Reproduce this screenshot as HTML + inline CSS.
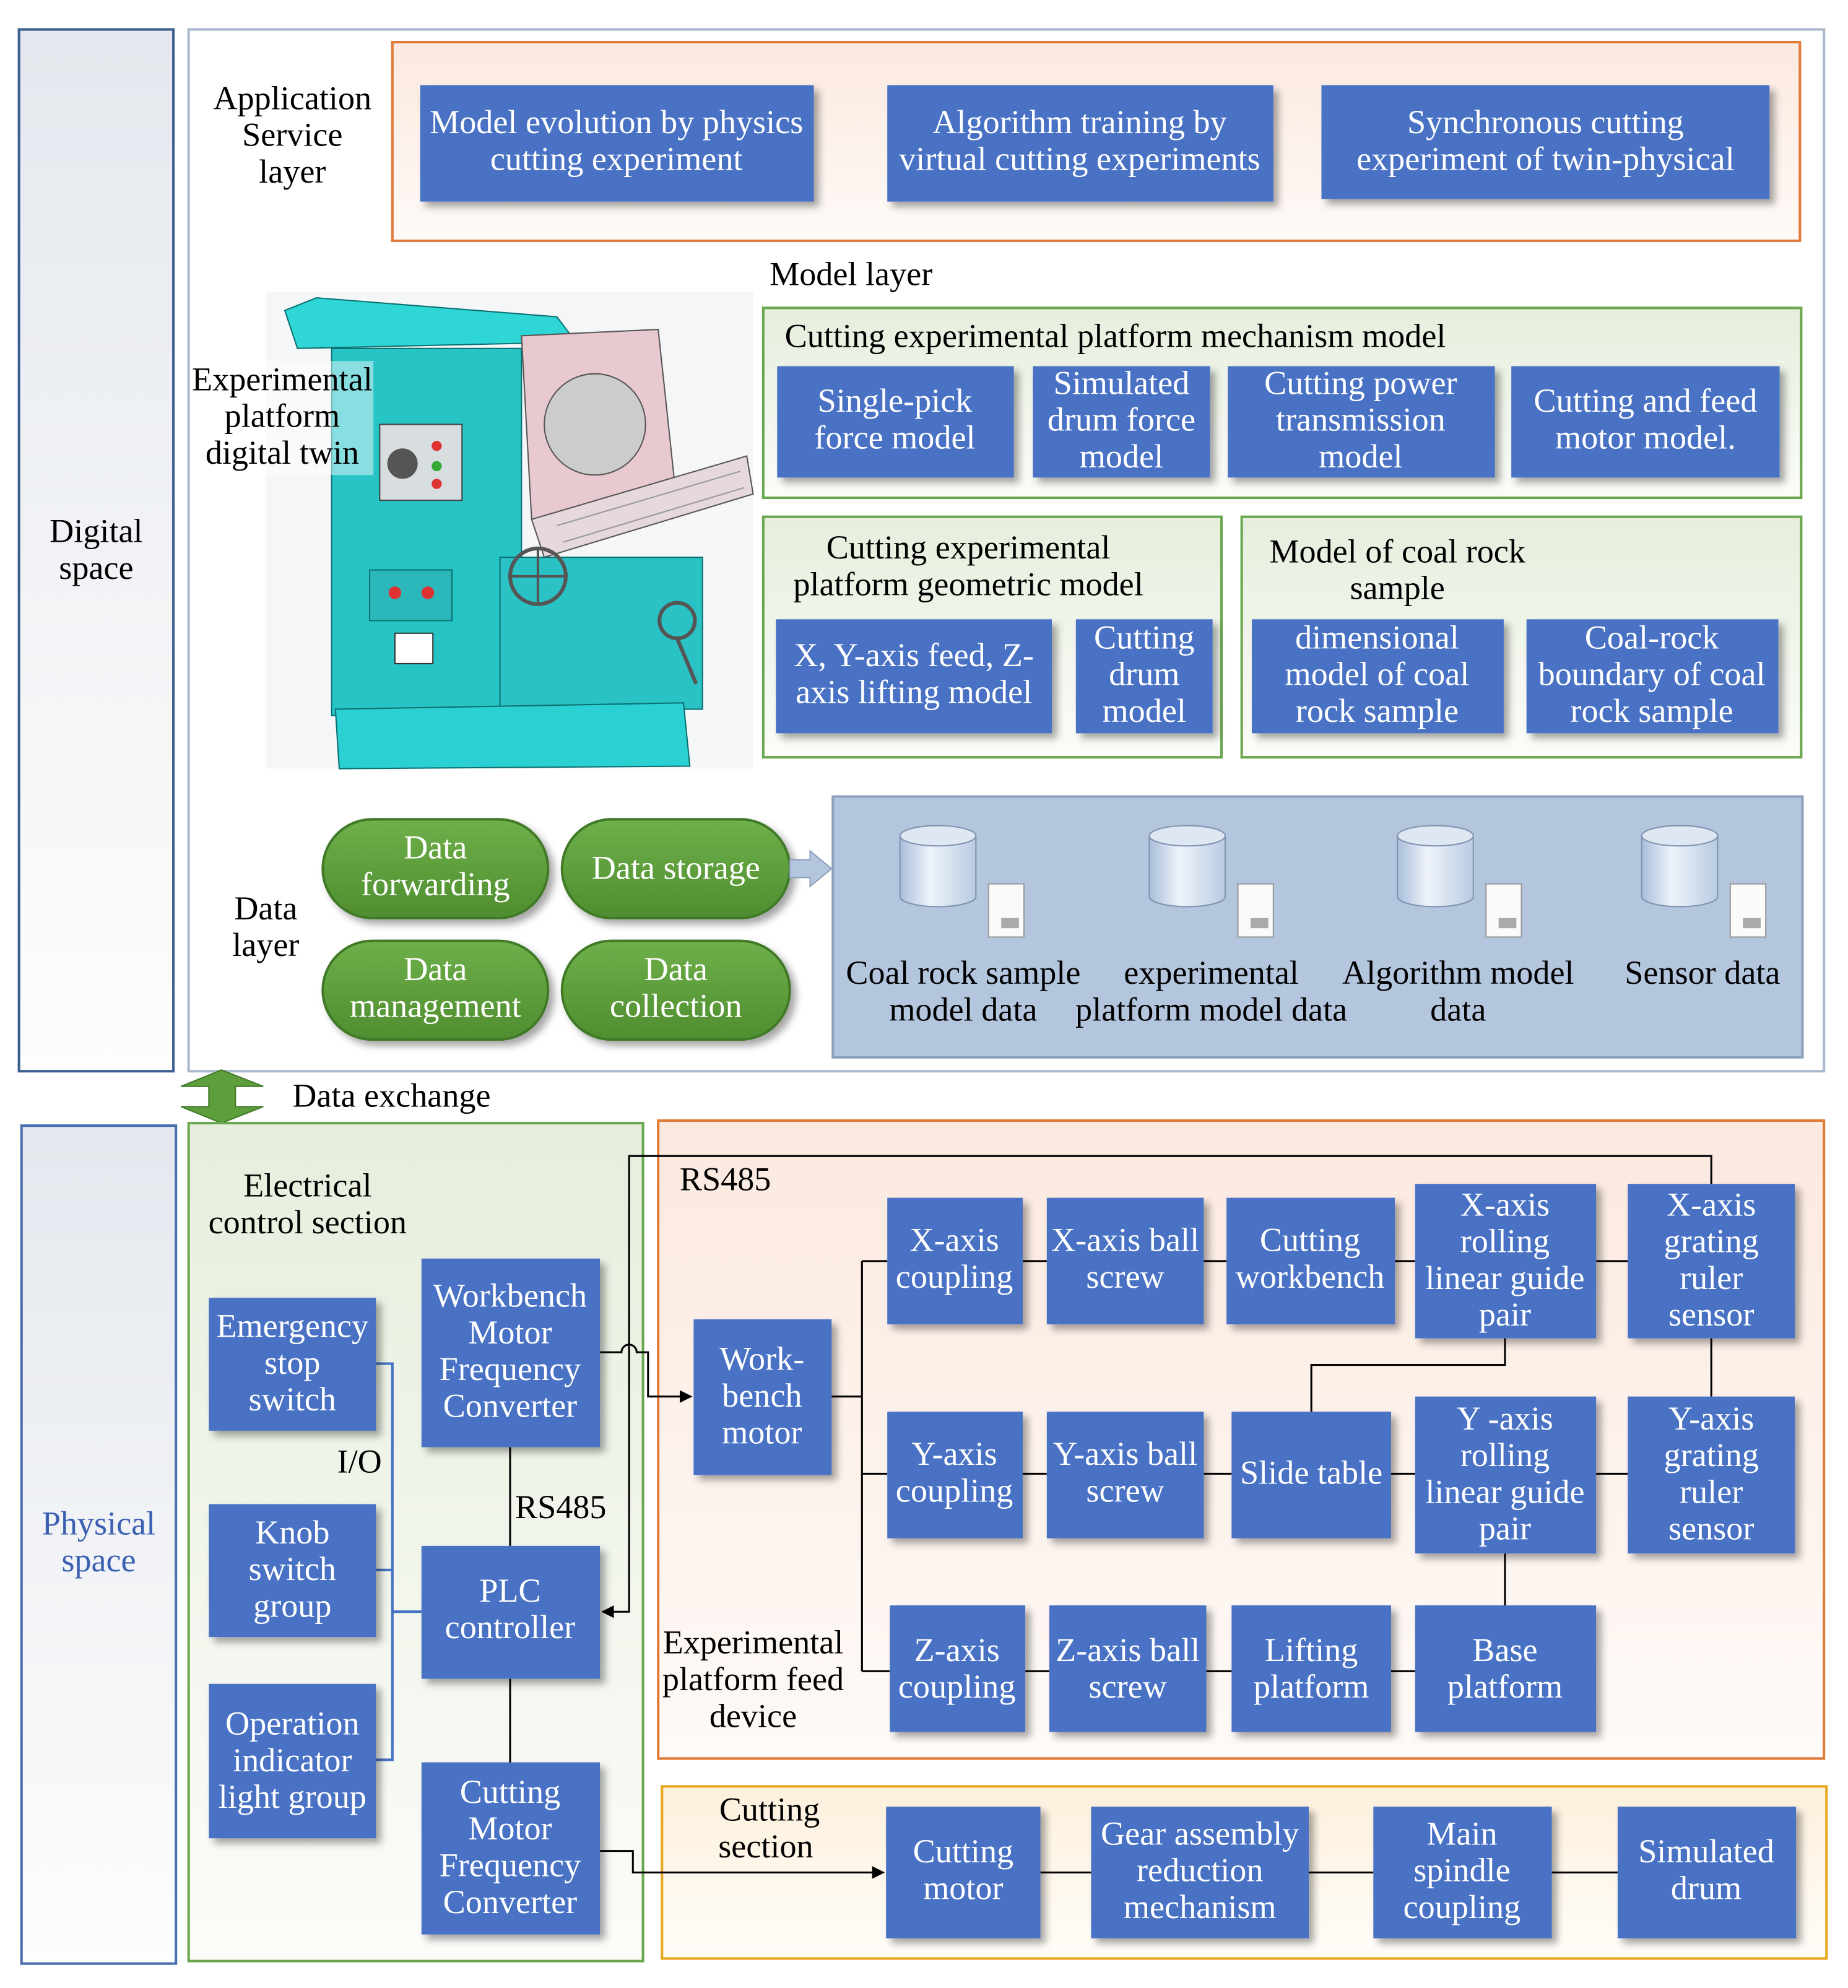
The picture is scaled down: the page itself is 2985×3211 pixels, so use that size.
<!DOCTYPE html>
<html><head><meta charset="utf-8"><style>html,body{margin:0;padding:0;background:#fff}svg{display:block}</style></head><body>
<svg xmlns="http://www.w3.org/2000/svg" width="2985" height="3211" viewBox="0 0 1460 1570" font-family="'Liberation Serif',serif" font-size="26.5">
<defs>
<filter id="sh" x="-10%" y="-10%" width="130%" height="130%"><feDropShadow dx="4" dy="4" stdDeviation="3" flood-color="#000" flood-opacity="0.35"/></filter>
<linearGradient id="gs" x1="0" y1="0" x2="0" y2="1"><stop offset="0" stop-color="#e4e8ee"/><stop offset="1" stop-color="#fdfdfd"/></linearGradient>
<linearGradient id="ga" x1="0" y1="0" x2="0" y2="1"><stop offset="0" stop-color="#fbe9df"/><stop offset="1" stop-color="#fefaf7"/></linearGradient>
<linearGradient id="gg" x1="0" y1="0" x2="0" y2="1"><stop offset="0" stop-color="#e6eedd"/><stop offset="1" stop-color="#fbfcf9"/></linearGradient>
<linearGradient id="gp" x1="0" y1="0" x2="0" y2="1"><stop offset="0" stop-color="#6fb04a"/><stop offset="1" stop-color="#4f8d2f"/></linearGradient>
<linearGradient id="gy" x1="0" y1="0" x2="0" y2="1"><stop offset="0" stop-color="#fdf0dc"/><stop offset="1" stop-color="#fffdf9"/></linearGradient>
<linearGradient id="gc" x1="0" y1="0" x2="1" y2="0"><stop offset="0" stop-color="#a9bedb"/><stop offset="0.4" stop-color="#eef3fa"/><stop offset="1" stop-color="#b9cbe2"/></linearGradient>
<marker id="ar" markerWidth="10" markerHeight="10" refX="9" refY="5" orient="auto" markerUnits="userSpaceOnUse"><path d="M0,0 L10,5 L0,10 z" fill="#000"/></marker>
</defs>
<rect width="1460" height="1570" fill="#fff"/>
<rect x="15" y="23" width="122" height="823" fill="url(#gs)" stroke="#3d5f8f" stroke-width="2"/>
<text x="76" y="428" text-anchor="middle">Digital</text><text x="76" y="457" text-anchor="middle">space</text>
<rect x="149" y="23" width="1292" height="823" fill="#fff" stroke="#a9b8cc" stroke-width="2"/>
<rect x="310" y="33" width="1112" height="157" fill="url(#ga)" stroke="#e07b39" stroke-width="2"/>
<g text-anchor="middle"><text x="231" y="86">Application</text><text x="231" y="115">Service</text><text x="231" y="144">layer</text></g>
<g fill="#4a72c5" filter="url(#sh)">
<rect x="332" y="67" width="311" height="92"/><rect x="701" y="67" width="305" height="92"/><rect x="1044" y="67" width="354" height="90"/>
</g>
<g fill="#fff" text-anchor="middle">
<text x="487" y="105">Model evolution by physics</text><text x="487" y="134">cutting experiment</text>
<text x="853" y="105">Algorithm training by</text><text x="853" y="134">virtual cutting experiments</text>
<text x="1221" y="105">Synchronous cutting</text><text x="1221" y="134">experiment of twin-physical</text>
</g>
<text x="608" y="225">Model layer</text>
<g>
<rect x="210" y="230" width="385" height="377" fill="#f4f6f8"/>
<path d="M225,245 L250,235 L440,250 L455,270 L235,275 Z" fill="#2fd6d6" stroke="#0a6f70"/>
<rect x="262" y="275" width="150" height="290" fill="#27c4c6" stroke="#0a6f70"/>
<rect x="300" y="335" width="65" height="60" fill="#d8dde0" stroke="#444"/>
<circle cx="318" cy="366" r="12" fill="#555"/>
<circle cx="345" cy="352" r="4" fill="#d33"/><circle cx="345" cy="368" r="4" fill="#3a3"/><circle cx="345" cy="382" r="4" fill="#d33"/>
<rect x="292" y="450" width="65" height="40" fill="#2cb8ba" stroke="#0a6f70"/>
<circle cx="312" cy="468" r="5" fill="#d33"/><circle cx="338" cy="468" r="5" fill="#d33"/>
<rect x="312" y="500" width="30" height="24" fill="#fff" stroke="#333"/>
<path d="M412,265 L520,260 L535,400 L420,410 Z" fill="#e8c9cf" stroke="#555"/>
<circle cx="470" cy="335" r="40" fill="#ccc" stroke="#555"/>
<path d="M420,410 L590,360 L595,390 L430,440 Z" fill="#e6d8dc" stroke="#555"/>
<path d="M440,415 L585,372 M445,428 L588,385" stroke="#999"/>
<rect x="395" y="440" width="160" height="120" fill="#2ac2c4" stroke="#0a6f70"/>
<circle cx="425" cy="455" r="22" fill="none" stroke="#555" stroke-width="3"/>
<path d="M403,455 L447,455 M425,433 L425,477" stroke="#555" stroke-width="2"/>
<circle cx="535" cy="490" r="14" fill="none" stroke="#555" stroke-width="3"/>
<path d="M535,504 L550,540" stroke="#555" stroke-width="3"/>
<path d="M265,560 L540,555 L545,605 L268,607 Z" fill="#2ad0d2" stroke="#0a6f70"/>
</g>
<rect x="150" y="285" width="145" height="90" fill="#fff" opacity="0.45"/>
<g text-anchor="middle"><text x="223" y="308">Experimental</text><text x="223" y="337">platform</text><text x="223" y="366">digital twin</text></g>
<rect x="603" y="243" width="820" height="150" fill="url(#gg)" stroke="#6aa84f" stroke-width="2"/>
<text x="620" y="274">Cutting experimental platform mechanism model</text>
<rect x="603" y="408" width="362" height="190" fill="url(#gg)" stroke="#6aa84f" stroke-width="2"/>
<rect x="981" y="408" width="442" height="190" fill="url(#gg)" stroke="#6aa84f" stroke-width="2"/>
<g text-anchor="middle"><text x="765" y="441">Cutting experimental</text><text x="765" y="470">platform geometric model</text>
<text x="1104" y="444">Model of coal rock</text><text x="1104" y="473">sample</text></g>
<g fill="#4a72c5" filter="url(#sh)">
<rect x="614" y="289" width="187" height="88"/><rect x="816" y="289" width="140" height="88"/><rect x="970" y="289" width="211" height="88"/><rect x="1194" y="289" width="212" height="88"/>
<rect x="613" y="489" width="218" height="90"/><rect x="850" y="489" width="108" height="90"/><rect x="989" y="489" width="199" height="90"/><rect x="1206" y="489" width="199" height="90"/>
</g>
<g fill="#fff" text-anchor="middle">
<text x="707" y="325">Single-pick</text><text x="707" y="354">force model</text>
<text x="886" y="311">Simulated</text><text x="886" y="340">drum force</text><text x="886" y="369">model</text>
<text x="1075" y="311">Cutting power</text><text x="1075" y="340">transmission</text><text x="1075" y="369">model</text>
<text x="1300" y="325">Cutting and feed</text><text x="1300" y="354">motor model.</text>
<text x="722" y="526">X, Y-axis feed, Z-</text><text x="722" y="555">axis lifting model</text>
<text x="904" y="512">Cutting</text><text x="904" y="541">drum</text><text x="904" y="570">model</text>
<text x="1088" y="512">dimensional</text><text x="1088" y="541">model of coal</text><text x="1088" y="570">rock sample</text>
<text x="1305" y="512">Coal-rock</text><text x="1305" y="541">boundary of coal</text><text x="1305" y="570">rock sample</text>
</g>
<g text-anchor="middle"><text x="210" y="726">Data</text><text x="210" y="755">layer</text></g>
<g fill="url(#gp)" stroke="#3f7a28" stroke-width="2" filter="url(#sh)">
<rect x="255" y="647" width="178" height="78" rx="39"/><rect x="444" y="647" width="180" height="78" rx="39"/>
<rect x="255" y="743" width="178" height="78" rx="39"/><rect x="444" y="743" width="180" height="78" rx="39"/>
</g>
<g fill="#fff" text-anchor="middle">
<text x="344" y="678">Data</text><text x="344" y="707">forwarding</text>
<text x="534" y="694">Data storage</text>
<text x="344" y="774">Data</text><text x="344" y="803">management</text>
<text x="534" y="774">Data</text><text x="534" y="803">collection</text>
</g>
<path d="M624,679 L640,679 L640,672 L657,686 L640,700 L640,693 L624,693 Z" fill="#b4c5de" stroke="#8ea0bb"/>
<rect x="658" y="629" width="766" height="206" fill="#b4c5de" stroke="#8ea0bb" stroke-width="2"/>
<g>
<g transform="translate(741,0)"><path d="M-30,660 L-30,708 A30,8 0 0 0 30,708 L30,660" fill="url(#gc)" stroke="#7f93b0"/><ellipse cx="0" cy="660" rx="30" ry="8" fill="#dfe7f2" stroke="#7f93b0"/><rect x="40" y="698" width="28" height="42" fill="#fafafa" stroke="#999"/><rect x="50" y="725" width="14" height="8" fill="#aaa"/></g>
<g transform="translate(938,0)"><path d="M-30,660 L-30,708 A30,8 0 0 0 30,708 L30,660" fill="url(#gc)" stroke="#7f93b0"/><ellipse cx="0" cy="660" rx="30" ry="8" fill="#dfe7f2" stroke="#7f93b0"/><rect x="40" y="698" width="28" height="42" fill="#fafafa" stroke="#999"/><rect x="50" y="725" width="14" height="8" fill="#aaa"/></g>
<g transform="translate(1134,0)"><path d="M-30,660 L-30,708 A30,8 0 0 0 30,708 L30,660" fill="url(#gc)" stroke="#7f93b0"/><ellipse cx="0" cy="660" rx="30" ry="8" fill="#dfe7f2" stroke="#7f93b0"/><rect x="40" y="698" width="28" height="42" fill="#fafafa" stroke="#999"/><rect x="50" y="725" width="14" height="8" fill="#aaa"/></g>
<g transform="translate(1327,0)"><path d="M-30,660 L-30,708 A30,8 0 0 0 30,708 L30,660" fill="url(#gc)" stroke="#7f93b0"/><ellipse cx="0" cy="660" rx="30" ry="8" fill="#dfe7f2" stroke="#7f93b0"/><rect x="40" y="698" width="28" height="42" fill="#fafafa" stroke="#999"/><rect x="50" y="725" width="14" height="8" fill="#aaa"/></g>
</g>
<g text-anchor="middle">
<text x="761" y="777">Coal rock sample</text><text x="761" y="806">model data</text>
<text x="957" y="777">experimental</text><text x="957" y="806">platform model data</text>
<text x="1152" y="777">Algorithm model</text><text x="1152" y="806">data</text>
<text x="1345" y="777">Sensor data</text>
</g>
<path d="M175,845 L143,858 L165,858 L165,874 L143,874 L175,887 L208,874 L186,874 L186,858 L208,858 Z" fill="#5f9e3c" stroke="#3f7a28"/>
<text x="231" y="874">Data exchange</text>
<rect x="17" y="889" width="122" height="662" fill="url(#gs)" stroke="#4a6fb0" stroke-width="2"/>
<g text-anchor="middle" fill="#3a5fb0"><text x="78" y="1212">Physical</text><text x="78" y="1241">space</text></g>
<rect x="149" y="887" width="359" height="662" fill="url(#gg)" stroke="#6aa84f" stroke-width="2"/>
<g text-anchor="middle"><text x="243" y="945">Electrical</text><text x="243" y="974">control section</text></g>
<rect x="520" y="885" width="921" height="504" fill="url(#ga)" stroke="#e07b39" stroke-width="2"/>
<rect x="523" y="1411" width="920" height="136" fill="url(#gy)" stroke="#e8a820" stroke-width="2"/>
<g fill="none" stroke="#4472c4" stroke-width="2">
<path d="M297,1077 L310,1077 L310,1390 L297,1390 M297,1240 L310,1240 M310,1273 L333,1273"/>
</g>
<text x="284" y="1163" text-anchor="middle">I/O</text>
<g fill="none" stroke="#000" stroke-width="1.5">
<path d="M403,1143 L403,1221 M403,1326 L403,1392"/>
<path d="M474,1068 L491,1068 A6,6 0 0 1 503,1068 L512,1068 L512,1103 L546,1103" marker-end="url(#ar)"/>
<path d="M1352,935 L1352,913 L497,913 L497,1273 L476,1273" marker-end="url(#ar)"/>
<path d="M657,1103 L681,1103 M681,996 L681,1320 M681,996 L701,996 M681,1164 L701,1164 M681,1320 L703,1320"/>
<path d="M808,996 L827,996 M951,996 L969,996 M1102,996 L1118,996 M1261,996 L1286,996"/>
<path d="M1189,1057 L1189,1078 L1036,1078 L1036,1115 M1352,1057 L1352,1103"/>
<path d="M808,1164 L827,1164 M951,1164 L973,1164 M1099,1164 L1118,1164 M1261,1164 L1286,1164"/>
<path d="M1189,1227 L1189,1268"/>
<path d="M810,1320 L829,1320 M953,1320 L973,1320 M1099,1320 L1118,1320"/>
<path d="M474,1462 L500,1462 L500,1479 L698,1479" marker-end="url(#ar)"/>
<path d="M822,1479 L862,1479 M1034,1479 L1085,1479 M1226,1479 L1278,1479"/>
</g>
<text x="443" y="1199" text-anchor="middle">RS485</text>
<text x="537" y="940">RS485</text>
<g text-anchor="middle"><text x="595" y="1306">Experimental</text><text x="595" y="1335">platform feed</text><text x="595" y="1364">device</text>
<text x="608" y="1438">Cutting</text><text x="605" y="1467">section</text></g>
<g fill="#4a72c5" filter="url(#sh)">
<rect x="165" y="1025" width="132" height="105"/><rect x="165" y="1188" width="132" height="105"/><rect x="165" y="1330" width="132" height="122"/>
<rect x="333" y="994" width="141" height="149"/><rect x="333" y="1221" width="141" height="105"/><rect x="333" y="1392" width="141" height="136"/>
<rect x="548" y="1042" width="109" height="123"/>
<rect x="701" y="946" width="107" height="100"/><rect x="827" y="946" width="124" height="100"/><rect x="969" y="946" width="133" height="100"/><rect x="1118" y="935" width="143" height="122"/><rect x="1286" y="935" width="132" height="122"/>
<rect x="701" y="1115" width="107" height="100"/><rect x="827" y="1115" width="124" height="100"/><rect x="973" y="1115" width="126" height="100"/><rect x="1118" y="1103" width="143" height="124"/><rect x="1286" y="1103" width="132" height="124"/>
<rect x="703" y="1268" width="107" height="100"/><rect x="829" y="1268" width="124" height="100"/><rect x="973" y="1268" width="126" height="100"/><rect x="1118" y="1268" width="143" height="100"/>
<rect x="700" y="1427" width="122" height="104"/><rect x="862" y="1427" width="172" height="104"/><rect x="1085" y="1427" width="141" height="104"/><rect x="1278" y="1427" width="141" height="104"/>
</g>
<g fill="#fff" text-anchor="middle">
<text x="231" y="1056">Emergency</text><text x="231" y="1085">stop</text><text x="231" y="1114">switch</text>
<text x="231" y="1219">Knob</text><text x="231" y="1248">switch</text><text x="231" y="1277">group</text>
<text x="231" y="1370">Operation</text><text x="231" y="1399">indicator</text><text x="231" y="1428">light group</text>
<text x="403" y="1032">Workbench</text><text x="403" y="1061">Motor</text><text x="403" y="1090">Frequency</text><text x="403" y="1119">Converter</text>
<text x="403" y="1265">PLC</text><text x="403" y="1294">controller</text>
<text x="403" y="1424">Cutting</text><text x="403" y="1453">Motor</text><text x="403" y="1482">Frequency</text><text x="403" y="1511">Converter</text>
<text x="602" y="1082">Work-</text><text x="602" y="1111">bench</text><text x="602" y="1140">motor</text>
<text x="754" y="988">X-axis</text><text x="754" y="1017">coupling</text>
<text x="889" y="988">X-axis ball</text><text x="889" y="1017">screw</text>
<text x="1035" y="988">Cutting</text><text x="1035" y="1017">workbench</text>
<text x="1189" y="960">X-axis</text><text x="1189" y="989">rolling</text><text x="1189" y="1018">linear guide</text><text x="1189" y="1047">pair</text>
<text x="1352" y="960">X-axis</text><text x="1352" y="989">grating</text><text x="1352" y="1018">ruler</text><text x="1352" y="1047">sensor</text>
<text x="754" y="1157">Y-axis</text><text x="754" y="1186">coupling</text>
<text x="889" y="1157">Y-axis ball</text><text x="889" y="1186">screw</text>
<text x="1036" y="1172">Slide table</text>
<text x="1189" y="1129">Y -axis</text><text x="1189" y="1158">rolling</text><text x="1189" y="1187">linear guide</text><text x="1189" y="1216">pair</text>
<text x="1352" y="1129">Y-axis</text><text x="1352" y="1158">grating</text><text x="1352" y="1187">ruler</text><text x="1352" y="1216">sensor</text>
<text x="756" y="1312">Z-axis</text><text x="756" y="1341">coupling</text>
<text x="891" y="1312">Z-axis ball</text><text x="891" y="1341">screw</text>
<text x="1036" y="1312">Lifting</text><text x="1036" y="1341">platform</text>
<text x="1189" y="1312">Base</text><text x="1189" y="1341">platform</text>
<text x="761" y="1471">Cutting</text><text x="761" y="1500">motor</text>
<text x="948" y="1457">Gear assembly</text><text x="948" y="1486">reduction</text><text x="948" y="1515">mechanism</text>
<text x="1155" y="1457">Main</text><text x="1155" y="1486">spindle</text><text x="1155" y="1515">coupling</text>
<text x="1348" y="1471">Simulated</text><text x="1348" y="1500">drum</text>
</g>
</svg>
</body></html>
